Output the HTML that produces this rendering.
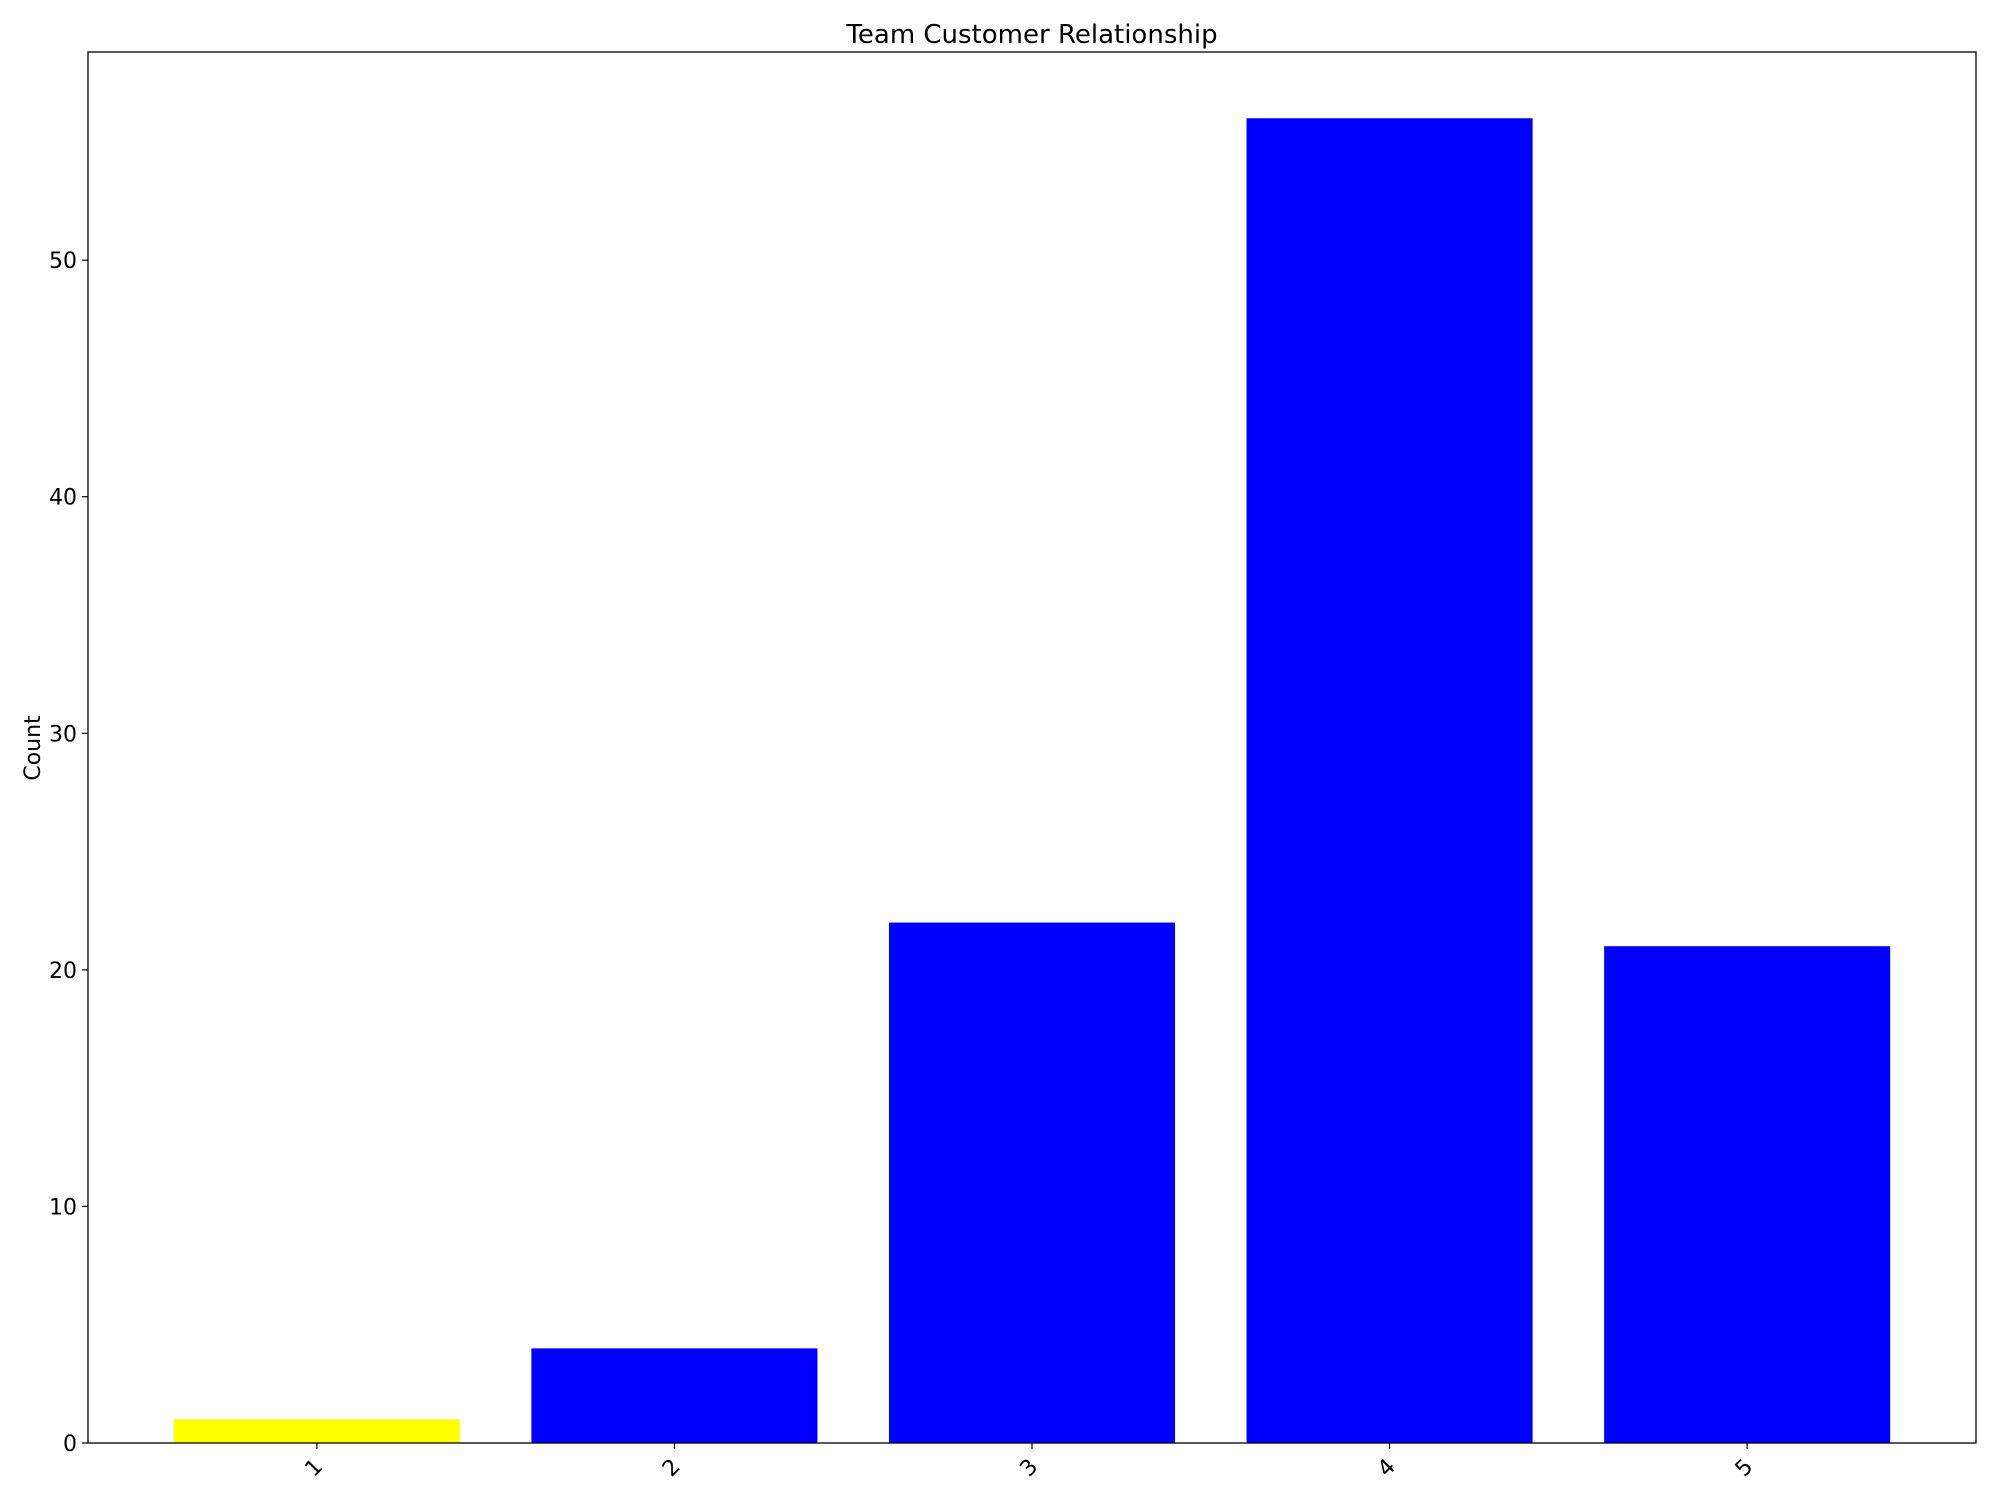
<!DOCTYPE html>
<html><head><meta charset="utf-8"><style>
html,body{margin:0;padding:0;background:#fff;}
svg{display:block;font-family:"DejaVu Sans","Liberation Sans",sans-serif;}
</style></head><body>
<svg id="chart" width="2000" height="1500" viewBox="0 0 2000 1500" xmlns="http://www.w3.org/2000/svg">
<rect width="2000" height="1500" fill="#fff"/>
<text x="1032" y="43" font-size="26" text-anchor="middle">Team Customer Relationship</text>
<text x="0" y="0" font-size="22" text-anchor="middle" transform="translate(40,748) rotate(-90)">Count</text>
<g id="bars"></g>
<g id="ticks"></g>
<rect x="88" y="52" width="1888" height="1391" fill="none" stroke="#000" stroke-width="1.3"/>
</svg>
<script>
const categories = ["1","2","3","4","5"];
const counts = [1, 4, 22, 56, 21];
const barColors = ["#ffff00","#0000ff","#0000ff","#0000ff","#0000ff"];
const yTicks = [0, 10, 20, 30, 40, 50];

const L=88,R=1976,T=52,B=1443;
const xmin=0.36,xmax=categories.length+0.64;
const ymax=Math.max(...counts)*1.05;
const xs=v=>L+(v-xmin)/(xmax-xmin)*(R-L);
const ys=v=>B-v/ymax*(B-T);
const NS="http://www.w3.org/2000/svg";
const bars=document.getElementById('bars'), ticks=document.getElementById('ticks');
categories.forEach((c,i)=>{
  const x0=xs(i+1-0.4), x1=xs(i+1+0.4);
  const r=document.createElementNS(NS,'rect');
  r.setAttribute('x',x0);r.setAttribute('width',x1-x0);
  r.setAttribute('y',ys(counts[i]));r.setAttribute('height',B-ys(counts[i]));
  r.setAttribute('fill',barColors[i]);
  
  
  bars.appendChild(r);
  const tx=xs(i+1);
  const l=document.createElementNS(NS,'line');
  l.setAttribute('x1',tx);l.setAttribute('x2',tx);l.setAttribute('y1',B);l.setAttribute('y2',B+6);
  l.setAttribute('stroke','#000');l.setAttribute('stroke-width','1.2');
  
  
  ticks.appendChild(l);
  const t=document.createElementNS(NS,'text');
  t.setAttribute('font-size','22');t.setAttribute('text-anchor','end');
  t.setAttribute('transform','translate('+(tx-4)+','+(B+14)+') rotate(-45)');
  t.setAttribute('dy','0.7em');
  t.textContent=c;
  
  
  ticks.appendChild(t);
});
yTicks.forEach(v=>{
  const y=ys(v);
  const l=document.createElementNS(NS,'line');
  l.setAttribute('x1',L-6);l.setAttribute('x2',L);l.setAttribute('y1',y);l.setAttribute('y2',y);
  l.setAttribute('stroke','#000');l.setAttribute('stroke-width','1.2');
  
  
  ticks.appendChild(l);
  const t=document.createElementNS(NS,'text');
  t.setAttribute('x',L-11);t.setAttribute('y',y+8);
  t.setAttribute('font-size','22');t.setAttribute('text-anchor','end');
  t.textContent=v;
  
  
  ticks.appendChild(t);
});
</script>
</body></html>
